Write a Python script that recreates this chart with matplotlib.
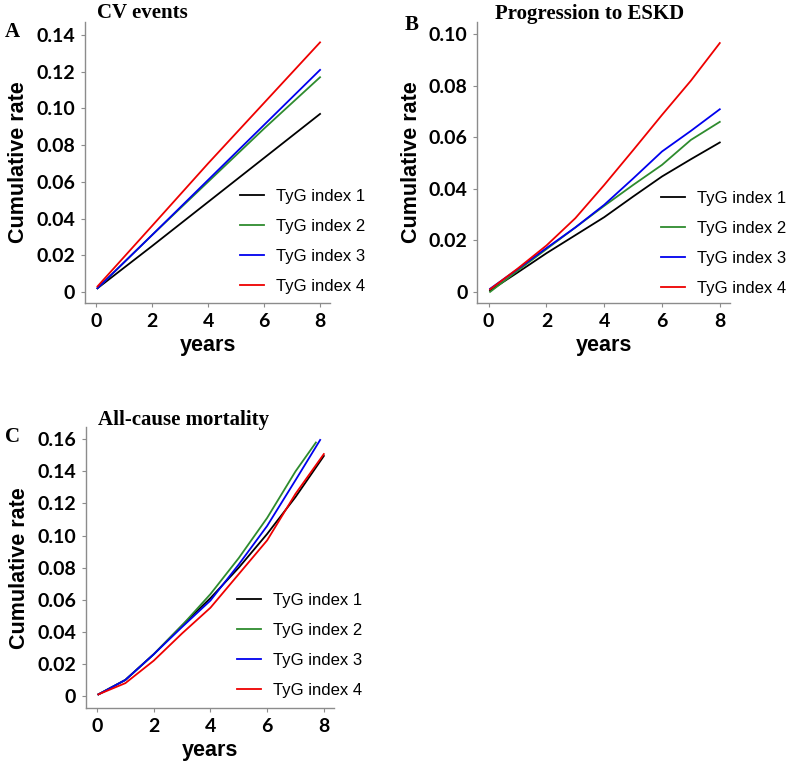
import matplotlib
matplotlib.use("Agg")
import matplotlib.pyplot as plt

# series labels / colours
labels = ["TyG index 1", "TyG index 2", "TyG index 3", "TyG index 4"]
colors = ["#000000", "#2e8b2e", "#0000ee", "#ee0000"]

# A: CV events
cv_x = [0.05, 2, 4, 6, 8]
cv_y = [
    [0.002, 0.025, 0.049, 0.073, 0.097],
    [0.002, 0.031, 0.060, 0.089, 0.117],
    [0.002, 0.031, 0.061, 0.091, 0.121],
    [0.003, 0.036, 0.070, 0.103, 0.136],
]

# B: progression to ESKD
eskd_x = [0.05, 1, 2, 3, 4, 5, 6, 7, 8]
eskd_y = [
    [0.0005, 0.0075, 0.015, 0.022, 0.029, 0.037, 0.0448, 0.0515, 0.058],
    [0.000, 0.0082, 0.0166, 0.025, 0.0334, 0.0415, 0.0493, 0.059, 0.066],
    [0.0012, 0.0088, 0.017, 0.025, 0.0338, 0.044, 0.0545, 0.0625, 0.0709],
    [0.001, 0.009, 0.018, 0.0286, 0.0415, 0.055, 0.0687, 0.082, 0.0966],
]

# C: all-cause mortality
mort_x = [
    [0.05, 1, 2, 3, 4, 5, 6, 7, 8],
    [0.05, 1, 2, 3, 4, 5, 6, 7, 7.72],
    [0.05, 1, 2, 3, 4, 5, 6, 7, 7.87],
    [0.05, 1, 2, 3, 4, 5, 6, 7, 8],
]
mort_y = [
    [0.001, 0.010, 0.026, 0.044, 0.061, 0.080, 0.101, 0.124, 0.1496],
    [0.001, 0.010, 0.026, 0.044, 0.0635, 0.086, 0.111, 0.140, 0.158],
    [0.001, 0.010, 0.026, 0.043, 0.0595, 0.082, 0.106, 0.1345, 0.1596],
    [0.001, 0.008, 0.022, 0.039, 0.055, 0.076, 0.097, 0.126, 0.1508],
]

xticks = [0, 2, 4, 6, 8]

fig = plt.figure(figsize=(7.86, 7.65), dpi=100)

tickfont = dict(family="Lato", weight="bold", size=14)
labfont = dict(family="Liberation Sans", weight="bold", size=15.5)
serif = dict(family="Liberation Serif", weight="bold")


def panel(rect, xs, ys, ylim, yticks, yticklabels, title, title_xy, letter, letter_xy, leg_anchor):
    ax = fig.add_axes(rect)
    for i in range(4):
        x = xs[i] if isinstance(xs[0], list) else xs
        ax.plot(x, ys[i], color=colors[i], lw=1.3, label=labels[i])
    ax.set_xlim(-0.4, 8.36)
    ax.set_ylim(*ylim)
    ax.set_xticks(xticks)
    ax.set_xticklabels([str(t) for t in xticks], fontdict=tickfont)
    ax.set_yticks(yticks)
    ax.set_yticklabels(yticklabels, fontdict=tickfont)
    for s in ["top", "right"]:
        ax.spines[s].set_visible(False)
    for s in ["left", "bottom"]:
        ax.spines[s].set_color("#8c8c8c")
        ax.spines[s].set_linewidth(1.0)
    ax.tick_params(length=3, color="#8c8c8c", pad=4)
    ax.set_ylabel("Cumulative rate", fontdict=labfont, labelpad=5)
    ax.set_xlabel("years", fontdict=labfont, labelpad=4)
    ax.legend(loc="upper left", bbox_to_anchor=leg_anchor, frameon=False,
              borderpad=0, borderaxespad=0, handlelength=1.45, handletextpad=0.7,
              labelspacing=0.9, prop=dict(family="Liberation Sans", size=12))
    fig.text(title_xy[0], title_xy[1], title, fontsize=15, va="center", ha="left", **serif)
    fig.text(letter_xy[0], letter_xy[1], letter, fontsize=15, va="center", ha="left", **serif)
    return ax


panel([0.108, 0.604, 0.312, 0.367], cv_x, cv_y, (-0.006, 0.147),
      [0, 0.02, 0.04, 0.06, 0.08, 0.10, 0.12, 0.14],
      ["0", "0.02", "0.04", "0.06", "0.08", "0.10", "0.12", "0.14"],
      "CV events", (97 / 786, 1 - 13 / 765), "A", (5 / 786, 1 - 32 / 765), (0.633, 0.405))

panel([0.607, 0.604, 0.322, 0.367], eskd_x, eskd_y, (-0.0043, 0.1047),
      [0, 0.02, 0.04, 0.06, 0.08, 0.10],
      ["0", "0.02", "0.04", "0.06", "0.08", "0.10"],
      "Progression to ESKD", (495 / 786, 1 - 14 / 765), "B", (405 / 786, 1 - 25 / 765), (0.727, 0.398))

panel([0.109, 0.0745, 0.316, 0.367], mort_x, mort_y, (-0.0075, 0.1675),
      [0, 0.02, 0.04, 0.06, 0.08, 0.10, 0.12, 0.14, 0.16],
      ["0", "0.02", "0.04", "0.06", "0.08", "0.10", "0.12", "0.14", "0.16"],
      "All-cause mortality", (98 / 786, 1 - 420 / 765), "C", (5 / 786, 1 - 437 / 765), (0.609, 0.411))

fig.savefig("out.png", dpi=100)
